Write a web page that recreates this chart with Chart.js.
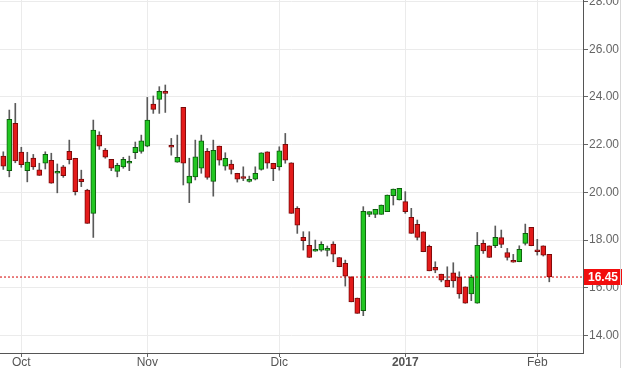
<!DOCTYPE html>
<html>
<head>
<meta charset="utf-8">
<script src="https://cdn.jsdelivr.net/npm/chart.js@4"></script>
<style>
    html, body { margin: 0; padding: 0; background: #fff; overflow: hidden; }
    #wrap { position: relative; width: 622px; height: 368px; }
</style>
</head>
<body>
<div id="wrap"><canvas id="candles"></canvas></div>
<script>
/* ---------- 資料：每日 OHLC ---------- */
const openP  = [21.52, 20.91, 22.89, 21.69, 20.91, 21.44, 20.94, 21.22, 21.34, 20.80,
                21.07, 21.72, 21.43, 20.56, 20.10, 19.12, 22.40, 21.77, 21.38, 20.88,
                21.07, 21.22, 21.66, 21.72, 21.94, 23.70, 23.90, 24.23, 21.96, 21.26,
                23.56, 20.38, 20.65, 21.01, 21.72, 20.46, 21.94, 21.10, 21.19, 20.80,
                20.63, 20.46, 20.55, 20.96, 21.70, 21.22, 21.07, 22.01, 21.24, 19.33,
                18.11, 17.78, 17.53, 17.58, 17.57, 17.83, 17.27, 17.02, 16.46, 15.57,
                15.04, 19.08, 19.08, 19.08, 19.19, 19.86, 19.68, 19.61, 18.95, 18.66,
                18.35, 17.74, 16.86, 16.57, 16.32, 16.63, 16.44, 16.04, 15.74, 15.35,
                17.86, 17.76, 17.76, 18.10, 17.48, 17.15, 17.09, 17.86, 18.53, 17.58,
                17.76, 17.40];
const highP  = [21.70, 23.45, 23.73, 21.89, 21.68, 21.59, 21.22, 21.70, 21.64, 21.19,
                21.13, 22.19, 21.43, 20.93, 20.13, 23.03, 22.54, 21.84, 21.38, 21.22,
                21.47, 21.52, 22.11, 22.40, 23.98, 24.04, 24.43, 24.50, 22.26, 22.40,
                23.56, 21.43, 22.19, 22.40, 21.84, 22.19, 21.94, 21.66, 21.35, 20.80,
                21.07, 20.68, 21.07, 21.66, 21.70, 21.22, 21.91, 22.47, 21.24, 19.40,
                18.35, 18.35, 18.00, 17.93, 17.75, 17.93, 17.27, 17.16, 16.46, 15.57,
                19.40, 19.19, 19.29, 19.47, 19.89, 20.14, 20.17, 20.03, 19.33, 18.84,
                18.35, 17.79, 17.09, 16.57, 16.88, 17.05, 16.67, 16.04, 16.53, 18.32,
                18.00, 17.76, 18.59, 18.42, 17.65, 17.40, 17.76, 18.67, 18.53, 18.03,
                17.76, 17.40];
const lowP   = [20.96, 20.65, 21.24, 21.05, 20.44, 20.96, 20.71, 20.98, 20.38, 19.98,
                20.63, 21.19, 19.89, 20.24, 18.70, 18.11, 21.80, 21.43, 20.91, 20.65,
                21.01, 20.91, 21.41, 21.64, 21.91, 23.31, 23.31, 23.35, 21.56, 21.26,
                20.31, 19.57, 20.52, 20.80, 20.55, 19.84, 21.14, 20.93, 20.77, 20.43,
                20.49, 20.43, 20.52, 20.93, 21.01, 20.49, 20.93, 21.22, 19.12, 18.28,
                17.58, 17.27, 17.53, 17.53, 17.33, 17.09, 16.88, 16.07, 15.41, 14.93,
                14.83, 18.98, 18.94, 19.08, 19.19, 19.47, 19.68, 19.12, 18.28, 18.00,
                17.51, 16.71, 16.63, 16.25, 16.04, 16.02, 15.56, 15.35, 15.46, 15.35,
                17.44, 17.27, 17.68, 17.68, 17.16, 17.07, 17.09, 17.79, 17.76, 17.37,
                17.33, 16.25];
const closeP = [21.10, 23.06, 21.32, 21.16, 21.27, 21.07, 20.71, 21.59, 20.38, 20.82,
                20.70, 21.37, 20.03, 20.45, 18.70, 22.61, 21.94, 21.47, 21.01, 21.13,
                21.38, 21.24, 21.89, 22.16, 23.03, 23.48, 24.23, 24.15, 21.89, 21.47,
                21.22, 20.68, 21.49, 22.16, 20.63, 21.76, 21.35, 21.43, 20.96, 20.55,
                20.58, 20.54, 20.80, 21.66, 21.22, 20.99, 21.74, 21.35, 19.12, 18.62,
                17.97, 17.27, 17.54, 17.82, 17.65, 17.41, 16.88, 16.49, 15.41, 14.93,
                19.20, 19.19, 19.29, 19.47, 19.89, 20.14, 20.17, 19.19, 18.28, 18.11,
                17.51, 16.71, 16.74, 16.32, 16.04, 16.29, 15.74, 15.35, 16.44, 17.78,
                17.55, 17.27, 18.11, 17.82, 17.27, 17.07, 17.61, 18.28, 17.76, 17.51,
                17.37, 16.45];

/* ---------- 軸刻度 ---------- */
const monthIdx    = [3, 24, 46, 67, 89];
const monthLabels = ["Oct", "Nov", "Dic", "2017", "Feb"];
const priceTicks  = [14, 16, 18, 20, 22, 24, 26, 28];
const lastPrice   = closeP[closeP.length - 1];

const X_MIN = -0.55, X_MAX = 96.62;
const Y_MIN = 13.266, Y_MAX = 28.063;

/* ---------- 顏色 ---------- */
const UP = "#22c622", UP_EDGE = "#0d5e0d";
const DOWN = "#e31b1b", DOWN_EDGE = "#7a0a0a";
const isUp = openP.map((o, i) => closeP[i] >= o);

/* ---------- 右側價格標籤 ---------- */
const priceTag = {
    id: "priceTag",
    afterDraw(chart) {
        const { ctx, scales: { y }, chartArea } = chart;
        const py = Math.round(y.getPixelForValue(lastPrice));
        ctx.save();
        ctx.fillStyle = "#f20d0d";
        ctx.fillRect(chartArea.right + 1, py - 8, 39, 16);
        ctx.fillStyle = "#fff";
        ctx.font = "bold 12px 'Liberation Sans', Arial, sans-serif";
        ctx.textBaseline = "middle";
        ctx.fillText(lastPrice.toFixed(2), chartArea.right + 5, py + 1);
        // 右邊細框線
        ctx.strokeStyle = "#d8d8d8";
        ctx.beginPath();
        ctx.moveTo(620.5, 0);
        ctx.lineTo(620.5, chart.height);
        ctx.stroke();
        ctx.restore();
    }
};

/* ---------- 圖表 ---------- */
const chart = new Chart(document.getElementById("candles"), {
    type: "bar",
    data: {
        datasets: [
            {
                type: "line",
                data: [{ x: X_MIN, y: lastPrice }, { x: X_MAX, y: lastPrice }],
                borderColor: "#d40000",
                borderWidth: 1,
                borderDash: [2, 2],
                pointRadius: 0,
                order: 0
            },
            {
                data: openP.map((o, i) => ({ x: i, y: [o, closeP[i]] })),
                backgroundColor: isUp.map(u => u ? UP : DOWN),
                borderColor: isUp.map(u => u ? UP_EDGE : DOWN_EDGE),
                borderWidth: 1,
                borderSkipped: false,
                barThickness: 5,
                minBarLength: 2,
                grouped: false,
                order: 1
            },
            {
                data: lowP.map((l, i) => ({ x: i, y: [l, highP[i]] })),
                backgroundColor: "#5a5a5a",
                borderWidth: 0,
                barThickness: 1,
                grouped: false,
                order: 2
            }
        ]
    },
    options: {
        responsive: true,
        maintainAspectRatio: false,
        animation: false,
        layout: { padding: 0 },
        plugins: { legend: { display: false }, tooltip: { enabled: false } },
        scales: {
            x: {
                type: "linear",
                min: X_MIN,
                max: X_MAX,
                offset: false,
                afterBuildTicks: s => { s.ticks = monthIdx.map(v => ({ value: v })); },
                afterFit: s => { s.height = 15; s.paddingLeft = 0; s.paddingRight = 0; },
                grid: { color: "#ebebeb", tickColor: "#666", tickLength: 4, offset: false },
                border: { color: "#555" },
                ticks: {
                    padding: -2,
                    maxRotation: 0,
                    autoSkip: false,
                    color: "#555",
                    font: ctx => ({
                        family: "'Liberation Sans', Arial, sans-serif",
                        size: 12,
                        weight: ctx.tick && ctx.tick.value === 67 ? "bold" : "normal"
                    }),
                    callback: v => monthLabels[monthIdx.indexOf(v)]
                }
            },
            y: {
                position: "right",
                min: Y_MIN,
                max: Y_MAX,
                afterBuildTicks: s => { s.ticks = priceTicks.map(v => ({ value: v })); },
                afterFit: s => { s.width = 39; s.paddingTop = 0; s.paddingBottom = 0; },
                grid: { color: "#ebebeb", tickColor: "#666", tickLength: 5 },
                border: { color: "#555" },
                ticks: {
                    padding: 1,
                    color: "#666",
                    font: { family: "'Liberation Sans', Arial, sans-serif", size: 12 },
                    callback: v => v.toFixed(2)
                }
            }
        }
    },
    plugins: [priceTag]
});
</script>
</body>
</html>
